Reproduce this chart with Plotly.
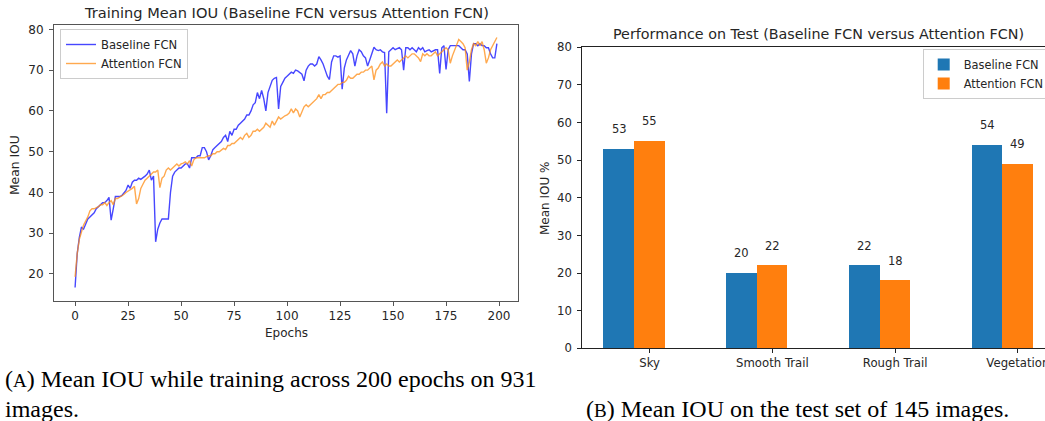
import plotly.graph_objects as go

W, H = 1045, 421

# ---------------- data ----------------
epochs = list(range(200))
baseline_fcn = [
    16.7, 25.0, 29.0, 31.5, 31.0, 32.5, 33.5, 34.0, 34.5, 35.0,
    36.0, 36.5, 37.0, 37.5, 37.5, 38.0, 38.8, 33.2, 36.0, 39.0,
    39.0, 39.0, 39.2, 40.0, 40.5, 41.8, 41.0, 42.5, 43.0, 43.0,
    43.5, 43.2, 43.5, 44.0, 44.5, 45.5, 43.0, 44.0, 27.9, 31.0,
    32.5, 33.5, 33.5, 33.5, 33.5, 40.0, 44.0, 45.0, 45.5, 46.0,
    46.0, 46.5, 47.0, 47.0, 46.0, 48.5, 48.5, 48.5, 49.0, 49.0,
    51.0, 51.0, 50.0, 48.0, 49.0, 50.5, 51.0, 51.5, 52.0, 52.5,
    53.5, 54.0, 52.5, 55.0, 54.0, 55.5, 55.5, 56.5, 57.0, 57.5,
    58.0, 59.0, 59.0, 60.0, 61.5, 62.0, 64.5, 63.0, 65.0, 63.0,
    60.0, 64.5, 66.0, 67.5, 68.0, 68.2, 60.5, 66.0, 67.0, 68.0,
    68.5, 69.0, 69.5, 69.2, 70.0, 69.8, 69.5, 69.0, 67.4, 70.0,
    71.0, 71.5, 71.5, 71.0, 71.5, 73.3, 72.5, 71.5, 70.0, 68.5,
    67.7, 72.0, 73.5, 73.5, 73.2, 73.5, 65.3, 70.5, 72.5, 73.5,
    74.8, 74.0, 71.0, 73.5, 75.0, 74.5, 73.5, 73.0, 71.0, 72.5,
    74.0, 75.6, 75.0, 74.8, 75.0, 74.5, 74.3, 59.4, 74.5, 75.0,
    75.5, 75.0, 75.2, 75.5, 75.0, 70.0, 75.5, 75.5, 75.0, 75.5,
    75.0, 74.5, 75.5, 75.0, 75.5, 74.5, 74.8, 75.0, 74.5, 74.8,
    75.0, 75.0, 69.2, 75.5, 76.0, 70.2, 75.0, 76.0, 76.0, 76.0,
    76.0, 76.0, 75.5, 75.0, 75.0, 74.0, 67.2, 74.0, 76.5, 76.5,
    76.0, 76.5, 76.0, 76.0, 75.5, 75.5, 74.0, 73.0, 73.0, 76.5,
]
attention_fcn = [
    19.3, 25.0, 28.5, 30.5, 32.0, 33.0, 34.0, 35.5, 36.0, 36.0,
    36.2, 36.5, 37.0, 37.0, 37.5, 36.8, 37.5, 38.0, 37.0, 38.5,
    38.5, 38.8, 39.0, 39.5, 40.0, 40.3, 40.5, 41.0, 41.5, 37.2,
    38.5, 41.0, 42.0, 43.0, 43.5, 44.0, 44.5, 45.0, 45.0, 45.5,
    41.2, 43.5, 44.0, 45.5, 46.0, 45.5, 46.0, 46.5, 47.0, 46.5,
    47.0, 47.2, 47.5, 47.0, 47.8, 46.5, 48.0, 48.5, 48.5, 48.5,
    48.5, 48.5, 48.8, 49.0, 49.0, 49.5, 49.5, 50.0, 50.0, 50.5,
    50.8, 50.5, 51.5, 51.5, 52.0, 52.0, 52.5, 53.0, 53.5, 53.0,
    54.0, 54.5, 53.5, 54.0, 55.0, 55.0, 55.5, 55.0, 55.5, 56.0,
    57.0, 56.5, 56.0, 57.5, 56.5, 57.5, 58.5, 58.0, 58.5, 58.8,
    59.0, 59.5, 60.5, 59.5, 60.5, 60.0, 58.5, 60.0, 61.0, 61.5,
    61.0, 61.5, 62.0, 62.5, 63.0, 64.0, 63.0, 64.0, 64.0, 64.5,
    64.5, 65.0, 65.5, 65.8, 66.5, 66.5, 67.0, 67.0, 67.5, 68.5,
    68.0, 68.0, 68.5, 69.0, 69.0, 69.5, 69.5, 70.0, 70.0, 70.5,
    71.0, 67.6, 70.0, 70.5, 71.5, 72.0, 71.0, 71.5, 71.0, 71.0,
    71.5, 72.0, 72.5, 72.0, 72.5, 73.0, 73.5, 73.0, 73.5, 74.0,
    74.0, 73.5, 73.0, 72.1, 74.0, 73.5, 74.0, 73.5, 73.5, 74.0,
    74.5, 73.5, 74.0, 74.5, 75.0, 75.5, 75.0, 71.7, 73.5, 75.0,
    76.5, 77.5, 77.0, 76.5, 75.5, 70.0, 72.0, 75.0, 76.5, 76.0,
    77.0, 76.0, 77.0, 75.0, 71.7, 73.0, 75.0, 76.0, 77.0, 78.0,
]

categories = ["Sky", "Smooth Trail", "Rough Trail", "Vegetation"]
test_baseline = [53, 20, 22, 54]
test_attention = [55, 22, 18, 49]

x_ticks_left = [0, 25, 50, 75, 100, 125, 150, 175, 200]
y_ticks_left = [20, 30, 40, 50, 60, 70, 80]
y_ticks_right = [0, 10, 20, 30, 40, 50, 60, 70, 80]

# ---------------- helpers ----------------
def px(x):
    return x / W

def py(y):
    return 1 - y / H

FONT = "DejaVu Sans"
TXT = "#262626"
BAR_W = 0.25

fig = go.Figure()

fig.add_trace(go.Scatter(
    x=epochs, y=baseline_fcn, mode="lines", name="Baseline FCN",
    line=dict(color="rgba(0,0,255,0.72)", width=1.4),
    xaxis="x", yaxis="y", legend="legend"))
fig.add_trace(go.Scatter(
    x=epochs, y=attention_fcn, mode="lines", name="Attention FCN",
    line=dict(color="rgba(255,140,20,0.75)", width=1.4),
    xaxis="x", yaxis="y", legend="legend"))

pos = list(range(len(categories)))
fig.add_trace(go.Bar(
    x=[p for p in pos], y=test_baseline, width=BAR_W, name="Baseline FCN",
    marker=dict(color="#1f77b4", line=dict(width=0)),
    xaxis="x2", yaxis="y2", legend="legend2"))
fig.add_trace(go.Bar(
    x=[p + BAR_W for p in pos], y=test_attention, width=BAR_W, name="Attention FCN",
    marker=dict(color="#ff7f0e", line=dict(width=0)),
    xaxis="x2", yaxis="y2", legend="legend2"))

LBL = dict(family=FONT, size=11.5, color=TXT)
annotations = []
for p, v in zip(pos, test_baseline):
    annotations.append(dict(x=p, y=v, xref="x2", yref="y2", text=str(v),
                            showarrow=False, yshift=20, yanchor="middle", font=LBL))
for p, v in zip(pos, test_attention):
    annotations.append(dict(x=p + BAR_W, y=v, xref="x2", yref="y2", text=str(v),
                            showarrow=False, yshift=20, yanchor="middle", font=LBL))

# titles and axis titles
annotations += [
    dict(x=px(286), y=py(13), xref="paper", yref="paper", showarrow=False,
         text="Training Mean IOU (Baseline FCN versus Attention FCN)",
         font=dict(family=FONT, size=14.6, color=TXT), xanchor="center", yanchor="middle"),
    dict(x=px(818.5), y=py(34), xref="paper", yref="paper", showarrow=False,
         text="Performance on Test (Baseline FCN versus Attention FCN)",
         font=dict(family=FONT, size=14.3, color=TXT), xanchor="center", yanchor="middle"),
    dict(x=px(286), y=py(333), xref="paper", yref="paper", showarrow=False,
         text="Epochs", font=dict(family=FONT, size=12, color=TXT),
         xanchor="center", yanchor="middle"),
    dict(x=px(15), y=py(165), xref="paper", yref="paper", showarrow=False,
         text="Mean IOU", textangle=-90, font=dict(family=FONT, size=12.3, color=TXT),
         xanchor="center", yanchor="middle"),
    dict(x=px(545), y=py(198), xref="paper", yref="paper", showarrow=False,
         text="Mean IOU %", textangle=-90, font=dict(family=FONT, size=12, color=TXT),
         xanchor="center", yanchor="middle"),
]

# captions
CAP = "Liberation Serif"
CAP_SIZE = 24
annotations += [
    dict(x=px(3), y=py(378.5), xref="paper", yref="paper", showarrow=False,
         text="(<span style='font-size:19px'>A</span>) Mean IOU while training across 200 epochs on 931",
         font=dict(family=CAP, size=CAP_SIZE, color="#000"), xanchor="left", yanchor="middle"),
    dict(x=px(3), y=py(409), xref="paper", yref="paper", showarrow=False,
         text="images.", font=dict(family=CAP, size=CAP_SIZE, color="#000"),
         xanchor="left", yanchor="middle"),
    dict(x=px(584), y=py(409), xref="paper", yref="paper", showarrow=False,
         text="(<span style='font-size:19px'>B</span>) Mean IOU on the test set of 145 images.",
         font=dict(family=CAP, size=CAP_SIZE, color="#000"), xanchor="left", yanchor="middle"),
]

LEFT_LINE = "#555555"
RIGHT_LINE = "#222222"

fig.update_layout(
    width=W, height=H,
    margin=dict(l=0, r=0, t=0, b=0, autoexpand=False),
    paper_bgcolor="white", plot_bgcolor="white",
    bargap=0,
    xaxis=dict(domain=[px(54), px(518)], range=[-9.95, 208.95],
               tickvals=x_ticks_left, showgrid=False, zeroline=False,
               showline=True, mirror=True, linecolor=LEFT_LINE, linewidth=1,
               ticks="outside", ticklen=4, tickcolor=LEFT_LINE,
               tickfont=dict(family=FONT, size=12, color=TXT), anchor="y"),
    yaxis=dict(domain=[py(300.7), py(25)], range=[13.45, 81.07],
               tickvals=y_ticks_left, showgrid=False, zeroline=False,
               showline=True, mirror=True, linecolor=LEFT_LINE, linewidth=1,
               ticks="outside", ticklen=4, tickcolor=LEFT_LINE,
               tickfont=dict(family=FONT, size=12, color=TXT),
               ticklabelstandoff=3, anchor="x"),
    xaxis2=dict(domain=[px(582.3), 1.0], range=[-0.299, 3.471],
                tickvals=[p + BAR_W for p in pos], ticktext=categories,
                ticklabeloverflow="allow",
                showgrid=False, zeroline=False,
                showline=True, mirror=True, linecolor=RIGHT_LINE, linewidth=1,
                ticks="outside", ticklen=4, tickcolor=RIGHT_LINE,
                tickfont=dict(family=FONT, size=11.7, color=TXT), anchor="y2"),
    yaxis2=dict(domain=[py(348.3), py(47.3)], range=[0, 80],
                tickvals=y_ticks_right, showgrid=False, zeroline=False,
                showline=True, mirror=False, linecolor=RIGHT_LINE, linewidth=1,
                ticks="outside", ticklen=4, tickcolor=RIGHT_LINE,
                tickfont=dict(family=FONT, size=11.7, color=TXT),
                ticklabelstandoff=3, anchor="x2"),
    legend=dict(x=px(60), y=py(29), xanchor="left", yanchor="top",
                bgcolor="rgba(255,255,255,0.9)", bordercolor="#cccccc", borderwidth=1,
                font=dict(family=FONT, size=11.6, color=TXT), itemwidth=30,
                tracegroupgap=0),
    legend2=dict(x=px(922.7), y=py(49), xanchor="left", yanchor="top",
                 bgcolor="rgba(255,255,255,0.9)", bordercolor="#cccccc", borderwidth=1,
                 font=dict(family=FONT, size=11.4, color=TXT), itemwidth=30,
                 tracegroupgap=0),
    annotations=annotations,
    showlegend=True,
)

fig.write_html("out.html", config={"displayModeBar": False},
               post_script="document.body.style.margin='0';document.body.style.overflow='hidden';")
